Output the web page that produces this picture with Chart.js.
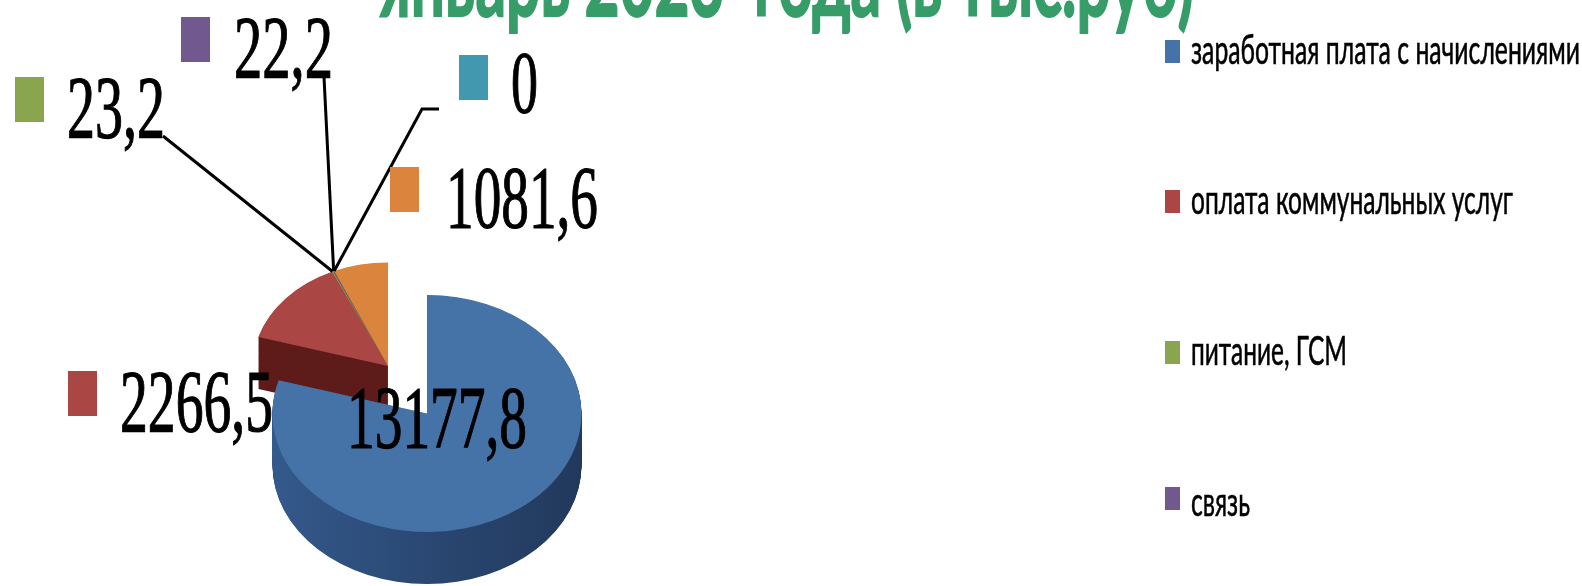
<!DOCTYPE html>
<html>
<head>
<meta charset="utf-8">
<style>
  html, body { margin: 0; padding: 0; background: #fff; overflow: hidden; }
  #wrap { width: 1582px; height: 586px; }
</style>
<script src="https://cdn.jsdelivr.net/npm/chart.js@4/dist/chart.umd.min.js"></script>
</head>
<body>
<div id="wrap"><canvas id="pie"></canvas></div>
<script>
const titleText = 'январь 2023  года (в тыс.руб)';
const categories = ['заработная плата с начислениями', 'оплата коммунальных услуг', 'питание, ГСМ', 'связь', null, null];
const values = [13177.8, 2266.5, 23.2, 22.2, 0, 1081.6];
const valueLabels = ['13177,8', '2266,5', '23,2', '22,2', '0', '1081,6'];
const colors = ['#4572A7', '#AA4643', '#89A54E', '#71588F', '#4198AF', '#DB843D'];
const sideColors = ['#2c4a75', '#5e1c1a', '#556b30', '#463659', '#285f6e', '#8a5226'];

// where the labels sit around the pie
const labelBoxes = [
    { text: [347, 447, 180] },
    { swatch: [68, 371], text: [120, 431, 153] },
    { swatch: [15, 77], text: [67, 137, 98] },
    { swatch: [181, 17], text: [234, 77, 99] },
    { swatch: [459, 55], text: [511, 112, 27] },
    { swatch: [390, 167], text: [446, 227, 152] }
];
const legendRows = [
    { y: 40, baseline: 64, width: 389 },
    { y: 190, baseline: 214, width: 322 },
    { y: 341, baseline: 365, width: 156 },
    { y: 487, baseline: 516, width: 59 }
];
// leader lines go from the thin slices up to their value labels
const leaders = { 2: [[163, 136]], 3: [[324, 77]], 4: [[422, 109], [439, 109]] };

const squash = 0.767;   // flattens the round pie into a tilted one
const depth = 52;
const explodeX = -39;
const explodeY = -62;
const explodedRadius = 135;

function drawFit(ctx, text, x, baseline, width, font, color, heavy) {
    ctx.save();
    ctx.font = font;
    ctx.fillStyle = color;
    ctx.textAlign = 'left';
    ctx.textBaseline = 'alphabetic';
    const scaleX = width / ctx.measureText(text).width;
    ctx.translate(x, baseline);
    ctx.scale(scaleX, 1);
    ctx.fillText(text, 0, 0);
    if (heavy) {
        ctx.strokeStyle = color;
        ctx.lineWidth = heavy;
        ctx.strokeText(text, 0, 0);
    }
    ctx.restore();
}

function slicePath(ctx, arc, dy) {
    ctx.beginPath();
    ctx.moveTo(arc.x, arc.y + dy);
    ctx.arc(arc.x, arc.y + dy, arc.outerRadius, arc.startAngle, arc.endAngle);
    ctx.closePath();
}

const tiltedPie = {
    id: 'tiltedPie',
    afterDatasetsUpdate(chart) {
        // everything except the big slice is pulled out together
        chart.getDatasetMeta(0).data.forEach((arc, i) => {
            if (i === 0) return;
            arc.x += explodeX;
            arc.y += explodeY;
            arc.outerRadius = explodedRadius;
        });
    },
    beforeDatasetsDraw(chart) {
        const ctx = chart.ctx;
        const arcs = chart.getDatasetMeta(0).data;
        const cx = (chart.chartArea.left + chart.chartArea.right) / 2;
        const cy = (chart.chartArea.top + chart.chartArea.bottom) / 2;
        ctx.save();
        ctx.translate(cx, cy);
        ctx.scale(1, squash);
        ctx.translate(-cx, -cy);

        // sides, small slices first so the big one covers them
        [5, 4, 3, 2, 1, 0].forEach(i => {
            const arc = arcs[i];
            if (values[i] === 0) return;
            let fill = sideColors[i];
            if (i === 0) {
                fill = ctx.createLinearGradient(cx - arc.outerRadius, 0, cx + arc.outerRadius, 0);
                fill.addColorStop(0, '#34598c');
                fill.addColorStop(0.55, '#294670');
                fill.addColorStop(1, '#22395c');
            }
            ctx.fillStyle = fill;
            for (let d = depth / squash; d > 0; d -= 1) {
                slicePath(ctx, arc, d);
                ctx.fill();
            }
        });
    },
    afterDatasetsDraw(chart) {
        const ctx = chart.ctx;
        const arcs = chart.getDatasetMeta(0).data;
        const cy = (chart.chartArea.top + chart.chartArea.bottom) / 2;
        ctx.restore();

        // leader lines start on the rim of their slice
        ctx.save();
        ctx.strokeStyle = '#000';
        ctx.lineWidth = 3;
        Object.keys(leaders).forEach(i => {
            const arc = arcs[i];
            const mid = (arc.startAngle + arc.endAngle) / 2;
            const px = arc.x + Math.cos(mid) * arc.outerRadius;
            const py = cy + (arc.y + Math.sin(mid) * arc.outerRadius - cy) * squash;
            ctx.beginPath();
            ctx.moveTo(px, py);
            leaders[i].forEach(p => ctx.lineTo(p[0], p[1]));
            ctx.stroke();
        });
        ctx.restore();

        // value labels with their colour keys
        labelBoxes.forEach((box, i) => {
            if (box.swatch) {
                ctx.fillStyle = colors[i];
                ctx.fillRect(box.swatch[0], box.swatch[1], 29, 45);
            }
            drawFit(ctx, valueLabels[i], box.text[0], box.text[1], box.text[2], '89px "Liberation Serif"', '#000', 1.2);
        });

        // legend, only the rows that fit in the picture
        legendRows.forEach((row, i) => {
            ctx.fillStyle = colors[i];
            ctx.fillRect(1165, row.y, 15, 23);
            drawFit(ctx, categories[i], 1191, row.baseline, row.width, '40px Lato, "Noto Sans"', '#000', 0.6);
        });

        drawFit(ctx, titleText, 380, 16, 814, 'bold 104px Lato, "Noto Sans"', '#369D69', 2);
    }
};

new Chart(document.getElementById('pie'), {
    type: 'pie',
    data: {
        labels: categories,
        datasets: [{
            data: values,
            backgroundColor: colors,
            borderWidth: 0,
            clip: false
        }]
    },
    options: {
        responsive: true,
        maintainAspectRatio: false,
        animation: false,
        events: [],
        layout: { padding: { left: 272.5, right: 1000.5, top: 259, bottom: 18 } },
        plugins: { legend: { display: false }, tooltip: { enabled: false } }
    },
    plugins: [tiltedPie]
});
</script>
</body>
</html>
